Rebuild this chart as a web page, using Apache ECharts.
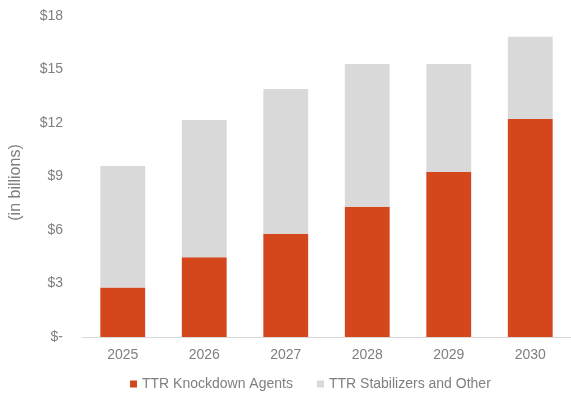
<!DOCTYPE html>
<html>
<head>
<meta charset="utf-8">
<script src="https://cdn.jsdelivr.net/npm/echarts@6/dist/echarts.min.js"></script>
<style>
  html, body { margin: 0; padding: 0; background: #ffffff; }
  #chart { width: 571px; height: 396px; }
</style>
</head>
<body>
<div id="chart"></div>
<script>
// Market size by year, in billions of dollars
var years = ['2025', '2026', '2027', '2028', '2029', '2030'];
var knockdownAgents = [2.77, 4.47, 5.79, 7.31, 9.27, 12.23];
var stabilizersOther = [6.82, 7.70, 8.11, 8.00, 6.04, 4.61];
var seriesNames = ['TTR Knockdown Agents', 'TTR Stabilizers and Other'];
var yTicks = [0, 3, 6, 9, 12, 15, 18];

var textColor = '#7f7f7f';
var fontFamily = 'Arial, "Liberation Sans", sans-serif';

var chart = echarts.init(document.getElementById('chart'), null, { renderer: 'canvas' });
chart.setOption({
  animation: false,
  backgroundColor: '#ffffff',
  textStyle: { fontFamily: fontFamily },
  grid: { left: 82, width: 493, top: 16, bottom: 59, containLabel: false },
  legend: {
    left: 125,
    top: 377,
    padding: [0, 5, 0, 5],
    itemWidth: 7,
    itemHeight: 7,
    itemGap: 24,
    icon: 'rect',
    textStyle: { color: textColor, fontSize: 14, fontFamily: fontFamily, padding: [0, 0, 0, 0] },
    data: seriesNames
  },
  xAxis: {
    type: 'category',
    data: years,
    axisLine: { show: true, lineStyle: { color: '#d9d9d9', width: 1 } },
    axisTick: { show: false },
    axisLabel: { color: textColor, fontSize: 14, margin: 11, fontFamily: fontFamily }
  },
  yAxis: {
    type: 'value',
    min: yTicks[0],
    max: yTicks[yTicks.length - 1],
    interval: 3,
    name: '(in billions)',
    nameLocation: 'middle',
    nameGap: 58,
    nameRotate: 90,
    nameTextStyle: { color: textColor, fontSize: 16, fontFamily: fontFamily, padding: [0, 12, 0, 0] },
    axisLine: { show: false },
    axisTick: { show: false },
    splitLine: { show: false },
    axisLabel: {
      color: textColor,
      fontSize: 14,
      margin: 19,
      fontFamily: fontFamily,
      formatter: function (v) { return v === 0 ? '$-' : '$' + v; }
    }
  },
  series: [
    {
      name: seriesNames[0],
      type: 'bar',
      stack: 'total',
      barWidth: '55%',
      itemStyle: { color: '#d4461c' },
      data: knockdownAgents
    },
    {
      name: seriesNames[1],
      type: 'bar',
      stack: 'total',
      barWidth: '55%',
      itemStyle: { color: '#d9d9d9' },
      data: stabilizersOther
    }
  ]
});
</script>
</body>
</html>
